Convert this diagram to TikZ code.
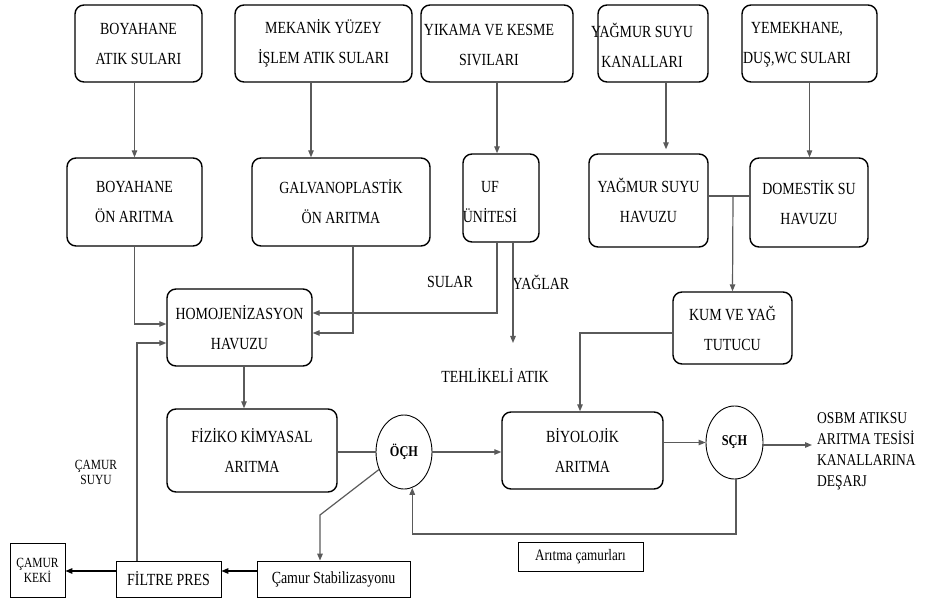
\documentclass[tikz,border=0pt]{standalone}
\usepackage{fontspec}
\setmainfont{Liberation Serif}[FakeStretch=0.82]
\usetikzlibrary{arrows.meta,shapes.geometric}
\newcommand\myfs[2]{\fontsize{#1pt}{#2pt}\selectfont}
\definecolor{lc}{HTML}{5A5A5A}
\begin{document}
\begin{tikzpicture}[x=1pt,y=-1pt,
  rbox/.style={draw=black,line width=1.4pt,rounded corners=9pt,inner sep=0pt,align=center,font=\myfs{17}{30}},
  sbox/.style={draw=black,line width=0.8pt,inner sep=0pt,align=center,font=\myfs{17}{20}},
  ell/.style={draw=black,line width=0.9pt,ellipse,inner sep=0pt,font=\bfseries\myfs{15}{18}},
  txt/.style={inner sep=0pt,align=center,font=\myfs{17}{30}},
  conn/.style={draw=lc,line width=1.2pt},
  arr/.style={conn,-{Triangle[length=7pt,width=5.5pt]}},
  barr/.style={draw=black,line width=1.2pt,-{Triangle[length=7pt,width=5.5pt]}}
]
\useasboundingbox (0,0) rectangle (926,601);

% top row
\node[rbox,minimum width=127pt,minimum height=77pt] (b1) at (138.5,43.5) {BOYAHANE\\ATIK SULARI};
\node[rbox,minimum width=177pt,minimum height=77pt] (b2) at (323.5,43.5) {MEKANİK YÜZEY\\İŞLEM ATIK SULARI};
\node[rbox,minimum width=152pt,minimum height=77pt] (b3) at (497,43.5) {};
\node[txt] (t3) at (489,45) {YIKAMA VE KESME\\SIVILARI};
\node[rbox,minimum width=110pt,minimum height=77pt] (b4) at (653,43.5) {};
\node[txt] (t4) at (642,45) {YAĞMUR SUYU\\KANALLARI};
\node[rbox,minimum width=135pt,minimum height=77pt] (b5) at (809.5,43.5) {};
\node[txt] (t5) at (797,45) {YEMEKHANE,\\DUŞ,WC SULARI};

% middle row
\node[rbox,minimum width=135pt,minimum height=88pt] (m1) at (134.5,202) {BOYAHANE\\ÖN ARITMA};
\node[rbox,minimum width=178pt,minimum height=88pt] (m2) at (341,202) {GALVANOPLASTİK\\ÖN ARITMA};
\node[rbox,minimum width=76pt,minimum height=88pt] (m3) at (501,198) {};
\node[txt] (t3b) at (490,202) {UF\\ÜNİTESİ};
\node[rbox,minimum width=119pt,minimum height=93pt] (m4) at (648.5,200.5) {YAĞMUR SUYU\\HAVUZU};
\node[rbox,minimum width=118pt,minimum height=89pt] (m5) at (809,202.5) {DOMESTİK SU\\HAVUZU};

% lower
\node[rbox,minimum width=145pt,minimum height=77pt] (homo) at (239.5,327.5) {HOMOJENİZASYON\\HAVUZU};
\node[rbox,minimum width=119pt,minimum height=72pt] (kum) at (732.5,328) {KUM VE YAĞ\\TUTUCU};
\node[rbox,minimum width=170pt,minimum height=83pt] (fiz) at (252,450.5) {FİZİKO KİMYASAL\\ARITMA};
\node[rbox,minimum width=161pt,minimum height=77pt] (biyo) at (582.5,450.5) {BİYOLOJİK\\ARITMA};
\node[ell,minimum width=56pt,minimum height=74pt] (och) at (404,452) {ÖÇH};
\node[ell,minimum width=57pt,minimum height=73pt] (sch) at (734.5,442.5) {SÇH};

\node[sbox,minimum width=153pt,minimum height=36pt] (stab) at (333.5,579) {Çamur Stabilizasyonu};
\node[sbox,minimum width=105pt,minimum height=36pt] (filtre) at (168.5,579) {FİLTRE PRES};
\node[sbox,minimum width=55pt,minimum height=54pt,font=\myfs{14}{15}] (keki) at (37.5,570) {ÇAMUR\\KEKİ};
\node[sbox,minimum width=125pt,minimum height=29pt,font=\myfs{16}{18}] (arit) at (580.5,556.5) {Arıtma çamurları};

% labels
\node[txt] (sular) at (450,282) {SULAR};
\node[txt] (yaglar) at (541,282) {YAĞLAR};
\node[txt] (tehl) at (495,375) {TEHLİKELİ ATIK};
\node[txt,font=\myfs{14}{15}] (csuyu) at (96,472) {ÇAMUR\\SUYU};
\node[inner sep=0pt,align=left,anchor=west,font=\myfs{16.5}{21}] (osbm) at (817,451) {OSBM ATIKSU\\ARITMA TESİSİ\\KANALLARINA\\DEŞARJ};

% connectors top -> middle
\draw[arr] (m1.north |- b1.south) -- (m1.north);
\draw[arr] ([xshift=-12.5pt]b2.south) -- ([xshift=-12.5pt]b2.south |- m2.north);
\draw[arr] (b3.south) -- (b3.south |- m3.north);
\draw[arr] ([xshift=13pt]b4.south) -- ([xshift=13pt,yshift=4pt]b4.south |- m4.north);
\draw[arr] (b5.south) -- (b5.south |- m5.north);

% rain + domestic -> kum
\coordinate (j) at (733,196);
\draw[conn] (m4.east |- j) -- (m5.west |- j);
\draw[arr] (j) -- (kum.north);
\draw[arr] ([yshift=-5pt]kum.west) -| ([xshift=-2.5pt]biyo.north);

% into homogenization
\draw[arr] (m1.south) |- ([yshift=3.5pt]homo.west);
\draw[arr] ([xshift=12pt]m2.south) |- ([yshift=-5.5pt]homo.east);
\draw[arr] ([xshift=-4pt]m3.south) |- ([yshift=14.5pt]homo.east);
\coordinate (yag) at (513,343);
\draw[arr] (m3.south -| yag) -- (yag);
\draw[arr] ([xshift=-31.5pt]filtre.north) |- ([yshift=-15.5pt]homo.west);

% main line
\draw[arr] ([xshift=4.5pt]homo.south) -- ([xshift=4.5pt]homo.south |- fiz.north);
\draw[conn] (och.west -| fiz.east) -- (och.west);
\draw[arr] (och.east) -- (och.east -| biyo.west);
\draw[arr] (sch.west -| biyo.east) -- (sch.west);
\coordinate (dis) at (812,445);
\draw[arr] (sch.east |- dis) -- (dis);

% return sludge
\coordinate (rb) at (736,534);
\draw[arr] (sch.south -| rb) -- (rb) -- (och.-77 |- rb) -- (och.-77);

% sludge line
\coordinate (k) at (320,515);
\draw[arr] (och.-145) -- (k) -- (k |- stab.north);
\draw[barr] ([yshift=8pt]stab.west) -- ([yshift=8pt]stab.west -| filtre.east);
\draw[barr] ([yshift=8pt]filtre.west) -- ([yshift=8pt]filtre.west -| keki.east);
\end{tikzpicture}
\end{document}
